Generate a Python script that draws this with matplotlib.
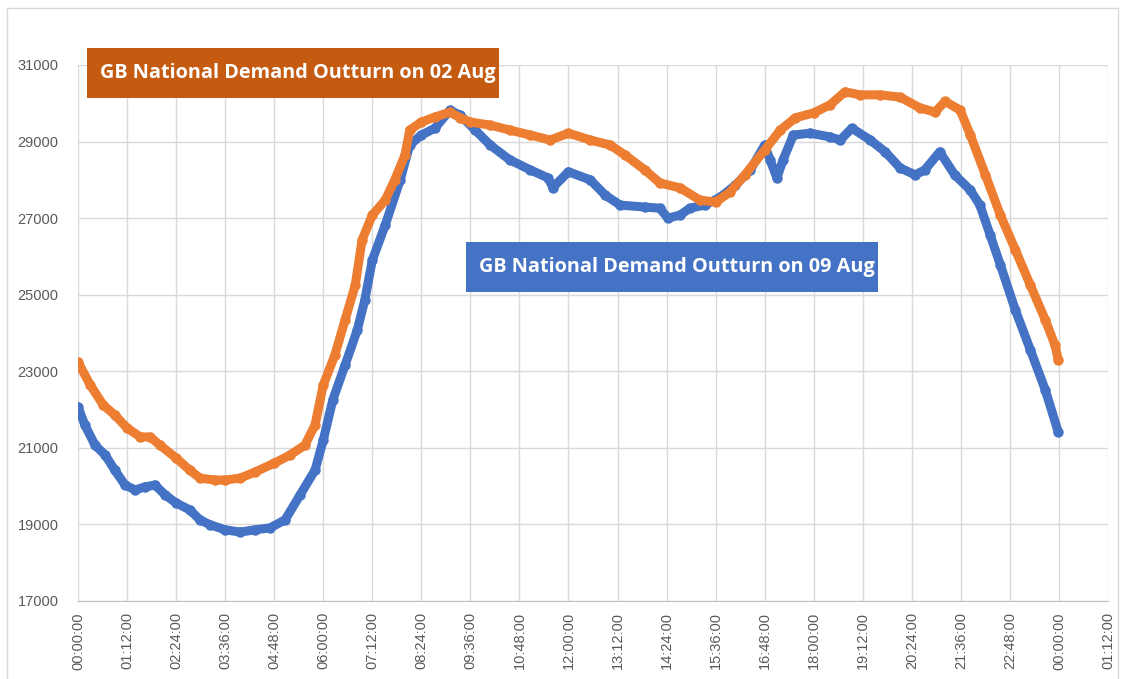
import matplotlib.pyplot as plt
from matplotlib.patches import Rectangle

# GB National Demand Outturn (MW), time of day "HH:MM"
t_02aug = ['00:00', '00:18', '00:37', '00:54', '01:12', '01:31', '01:46', '02:00',
           '02:24', '02:44', '02:59', '03:21', '03:36', '03:58', '04:20', '04:48',
           '05:11', '05:33', '05:48', '06:00', '06:17', '06:32', '06:47', '06:57',
           '07:12', '07:31', '07:45', '08:00', '08:07', '08:24', '08:44', '09:06',
           '09:21', '09:36', '10:05', '10:34', '11:04', '11:33', '12:00', '12:32',
           '13:01', '13:23', '13:52', '14:14', '14:44', '15:13', '15:36', '15:57',
           '16:19', '16:48', '17:11', '17:33', '18:00', '18:24', '18:46', '19:08',
           '19:37', '20:07', '20:36', '20:58', '21:13', '21:35', '21:50', '22:12',
           '22:34', '22:56', '23:18', '23:40', '23:54', '23:59']
d_02aug = [23240, 22640, 22120, 21860, 21520, 21290, 21280, 21075,
           20735, 20420, 20210, 20160, 20160, 20210, 20370, 20600,
           20810, 21070, 21600, 22640, 23420, 24340, 25250, 26430,
           27080, 27470, 28000, 28650, 29300, 29510, 29640, 29770,
           29620, 29510, 29430, 29300, 29170, 29040, 29220, 29040,
           28910, 28650, 28260, 27920, 27790, 27470, 27420, 27680,
           28130, 28780, 29300, 29620, 29750, 29960, 30300, 30220,
           30220, 30160, 29880, 29770, 30050, 29820, 29170, 28130,
           27080, 26170, 25250, 24340, 23690, 23300]

t_09aug = ['00:00', '00:10', '00:25', '00:40', '00:54', '01:09', '01:24', '01:38',
           '01:53', '02:08', '02:24', '02:44', '02:59', '03:14', '03:36', '03:58',
           '04:20', '04:42', '05:04', '05:26', '05:48', '06:00', '06:14', '06:32',
           '06:50', '07:01', '07:12', '07:31', '07:53', '08:07', '08:24', '08:44',
           '09:06', '09:21', '09:43', '10:05', '10:34', '11:04', '11:30', '11:37',
           '12:00', '12:32', '12:54', '13:16', '13:52', '14:14', '14:26', '14:44',
           '14:58', '15:20', '15:43', '16:05', '16:27', '16:48', '16:56', '17:06',
           '17:15', '17:30', '17:55', '18:24', '18:39', '18:56', '19:23', '19:45',
           '20:07', '20:29', '20:43', '21:05', '21:27', '21:50', '22:04', '22:19',
           '22:34', '22:56', '23:18', '23:40', '23:59']
d_09aug = [22070, 21600, 21070, 20810, 20420, 20030, 19900, 19980,
           20030, 19770, 19560, 19380, 19120, 18990, 18860, 18800,
           18860, 18910, 19120, 19770, 20420, 21200, 22250, 23160,
           24080, 24860, 25900, 26820, 28000, 28910, 29170, 29350,
           29820, 29690, 29300, 28910, 28520, 28260, 28050, 27800,
           28210, 28000, 27600, 27340, 27290, 27260, 27000, 27080,
           27260, 27340, 27550, 27860, 28260, 28910, 28520, 28050,
           28520, 29170, 29220, 29120, 29040, 29350, 29040, 28730,
           28310, 28130, 28260, 28730, 28130, 27730, 27340, 26560,
           25780, 24600, 23560, 22510, 21410]

label_02 = 'GB National Demand Outturn on 02 Aug'
label_09 = 'GB National Demand Outturn on 09 Aug'


def day_frac(s):
    h, m = s.split(':')
    return (int(h) * 60 + int(m)) / 1440.0


def tick_label(x):
    mins = int(round(x * 1440)) % 1440
    return '%02d:%02d:00' % (mins // 60, mins % 60)


orange = '#ED7D31'
blue = '#4472C4'
grey_txt = '#595959'
W, H = 1121, 679

fig = plt.figure(figsize=(W / 100, H / 100), dpi=100)
ax = fig.add_axes([78 / W, 1 - 601 / H, 1030 / W, 536 / H])

ax.plot([day_frac(s) for s in t_09aug], d_09aug, color=blue, lw=6.5,
        marker='o', ms=6.5, solid_joinstyle='round', solid_capstyle='round', zorder=3)
ax.plot([day_frac(s) for s in t_02aug], d_02aug, color=orange, lw=6.5,
        marker='o', ms=6.5, solid_joinstyle='round', solid_capstyle='round', zorder=4)

xt = [i * 0.05 for i in range(22)]
ax.set_xlim(0, 1.05)
ax.set_xticks(xt)
ax.set_xticklabels([tick_label(x) for x in xt], rotation=90)
ax.set_ylim(17000, 31000)
ax.set_yticks(range(17000, 31001, 2000))

ax.grid(True, color='#D9D9D9', lw=1)
ax.set_axisbelow(True)
for side in ['top', 'right', 'left']:
    ax.spines[side].set_visible(False)
ax.spines['bottom'].set_color('#BFBFBF')
ax.tick_params(axis='y', length=0, pad=14, labelsize=10.5, labelcolor=grey_txt)
ax.tick_params(axis='x', length=0, pad=8, labelsize=10.5, labelcolor=grey_txt)
for lab in ax.get_xticklabels() + ax.get_yticklabels():
    lab.set_family('Liberation Sans')


def label_box(x0, y0, x1, y1, fc, text):
    fig.patches.append(Rectangle((x0 / W, 1 - y1 / H), (x1 - x0) / W, (y1 - y0) / H,
                                 transform=fig.transFigure, fc=fc, ec='none', zorder=5))
    fig.text((x0 + 13) / W, 1 - (y0 + y1) / 2 / H, text, va='center', ha='left',
             family='Open Sans', weight='bold', size=14.3, color='white', zorder=6)


label_box(87, 48, 499, 98, '#C55A11', label_02)
label_box(466, 242, 878, 292, blue, label_09)

# light outer frame of the chart area
fig.patches.append(Rectangle((7 / W, -0.01), 1111 / W, 1.01 - 8 / H,
                             transform=fig.transFigure, fill=False,
                             ec='#D9D9D9', lw=1))

fig.savefig('out.png', dpi=100)
